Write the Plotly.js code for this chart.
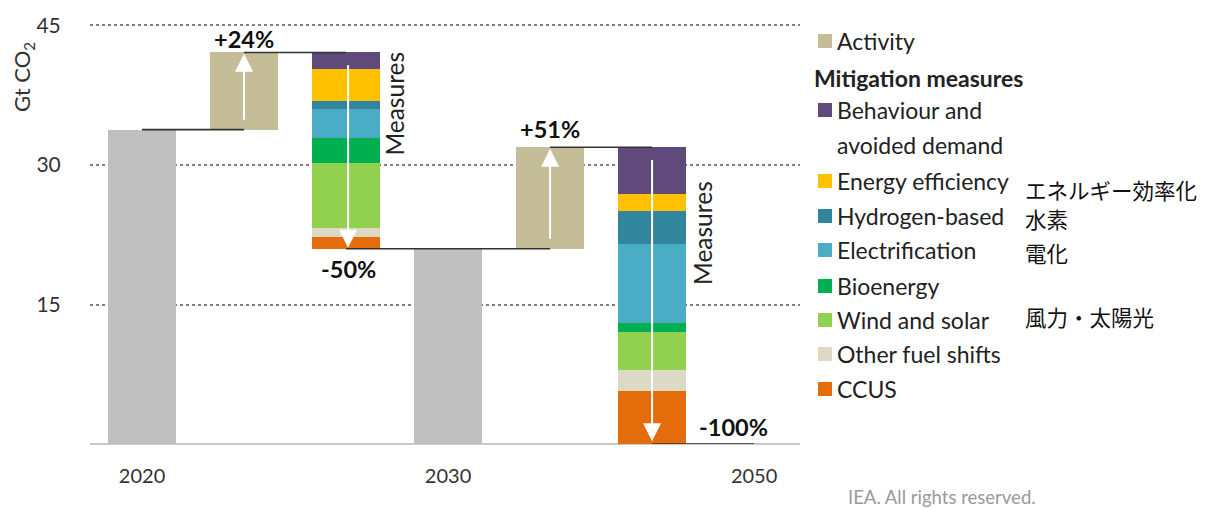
<!DOCTYPE html>
<html><head><meta charset="utf-8">
<script src="https://cdn.plot.ly/plotly-3.0.1.min.js"></script>
<style>body{margin:0;background:#fff}#chart{width:1207px;height:508px}</style>
</head><body><div id="chart"></div>
<script>
// ---- data ----
const tickLabels = ['2020', '2030', '2050'];
const totals = [33.8, 21.0];            // 2020 and 2030 emissions (Gt CO2)
const activity = [8.3, 10.9];           // activity-driven increase after 2020 and after 2030
const measureNames = ['CCUS', 'Other fuel shifts', 'Wind and solar', 'Bioenergy',
  'Electrification', 'Hydrogen-based', 'Energy efficiency', 'Behaviour and avoided demand'];
const ccus = [1.3, 5.75];
const otherFuelShifts = [0.9, 2.25];
const windSolar = [7.0, 4.0];
const bioenergy = [2.7, 1.0];
const electrification = [3.1, 8.5];
const hydrogen = [0.9, 3.5];
const efficiency = [3.4, 1.9];
const behaviour = [1.8, 5.0];
const pctLabels = ['+24%', '-50%', '+51%', '-100%'];
const jpEfficiency = 'エネルギー効率化';
const jpHydrogen = '水素';
const jpElectrification = '電化';
const jpWindSolar = '風力・太陽光';

// ---- styles ----
const measureColors = ['#e46c0a', '#ddd9c4', '#92d050', '#00b050', '#4bacc6', '#31859c', '#ffc000', '#604a7b'];
const greyC = '#bfbfbf', actC = '#c4bd97';
const FONT = 'Lato, "Open Sans", sans-serif';
const measures = [ccus, otherFuelShifts, windSolar, bioenergy, electrification, hydrogen, efficiency, behaviour];

// slots: 0=2020, 1=activity, 2=measures, 3=2030, 4=activity, 5=measures, 6=2050
const W = 0.667;
const traces = [];
traces.push({type: 'bar', x: [0, 3], y: totals, marker: {color: greyC}, width: W, showlegend: false});
const actTop = totals.map((t, i) => t + activity[i]);
traces.push({type: 'bar', x: [1, 4], y: activity, base: totals, marker: {color: actC}, width: W, showlegend: false});
const measureTotal = [0, 1].map(i => measures.reduce((s, m) => s + m[i], 0));
const cum = [0, 1].map(i => actTop[i] - measureTotal[i]);
const endVals = cum.slice();
measures.forEach((m, k) => {
  traces.push({type: 'bar', x: [2, 5], y: m, base: cum.slice(), name: measureNames[k],
    marker: {color: measureColors[k]}, width: W, showlegend: false});
  cum[0] += m[0]; cum[1] += m[1];
});

const lineStyle = {color: '#333', width: 1.6};
const shapes = [
  {type: 'line', xref: 'x', yref: 'y', x0: 0, x1: 1, y0: totals[0], y1: totals[0], line: lineStyle},
  {type: 'line', xref: 'x', yref: 'y', x0: 1, x1: 2, y0: actTop[0], y1: actTop[0], line: lineStyle},
  {type: 'line', xref: 'x', yref: 'y', x0: 2, x1: 4, y0: endVals[0], y1: endVals[0], line: lineStyle},
  {type: 'line', xref: 'x', yref: 'y', x0: 4, x1: 5, y0: actTop[1], y1: actTop[1], line: lineStyle},
  {type: 'line', xref: 'x', yref: 'y', x0: 5, x1: 6, y0: endVals[1], y1: endVals[1], line: lineStyle},
];

const arrow = (x, from, to) => ({x: x, y: to, ax: x, ay: from, xref: 'x', yref: 'y', axref: 'x', ayref: 'y',
  text: ' ', showarrow: true, arrowhead: 2, arrowsize: 1.8, arrowwidth: 2, arrowcolor: '#ffffff', standoff: 0});
const annotations = [
  arrow(1, totals[0], actTop[0] - 0.15),
  arrow(2.02, actTop[0] - 0.3, endVals[0] + 0.1),
  arrow(4, totals[1], actTop[1] - 0.15),
  arrow(5, actTop[1] - 0.3, endVals[1] + 0.3),
];
const pctFont = {family: FONT, size: 23.5, color: '#111'};
annotations.push({x: 1, y: 43.5, xref: 'x', yref: 'y', text: '<b>' + pctLabels[0] + '</b>', showarrow: false, font: pctFont});
annotations.push({x: 2.02, y: 18.8, xref: 'x', yref: 'y', text: '<b>' + pctLabels[1] + '</b>', showarrow: false, font: pctFont});
annotations.push({x: 4, y: 33.9, xref: 'x', yref: 'y', text: '<b>' + pctLabels[2] + '</b>', showarrow: false, font: pctFont});
annotations.push({x: 5.8, y: 1.8, xref: 'x', yref: 'y', text: '<b>' + pctLabels[3] + '</b>', showarrow: false, font: pctFont});
const measFont = {family: FONT, size: 24.5, color: '#222'};
annotations.push({x: 2.48, y: 36.6, xref: 'x', yref: 'y', text: 'Measures', textangle: -90, showarrow: false, font: measFont});
annotations.push({x: 5.5, y: 22.7, xref: 'x', yref: 'y', text: 'Measures', textangle: -90, showarrow: false, font: measFont});

// ---- pixel helpers for axis title and custom legend ----
const L = 90, PW = 710, B = 444, PH = 432;
const px = v => (v - L) / PW, py = v => (B - v) / PH;
annotations.push({x: px(23), y: py(77), xref: 'paper', yref: 'paper', xanchor: 'center', yanchor: 'middle',
  text: 'Gt CO<sub>2</sub>', textangle: -90, showarrow: false,
  font: {family: FONT, size: 22, color: '#333'}});

const legFont = {family: FONT, size: 23, color: '#222'};
function legText(t, xPix, yPix, font) {
  annotations.push({x: px(xPix), y: py(yPix), xref: 'paper', yref: 'paper', xanchor: 'left', yanchor: 'middle',
    text: t, showarrow: false, font: font || legFont});
}
function legBox(color, yPix) {
  shapes.push({type: 'rect', xref: 'paper', yref: 'paper', x0: px(818), x1: px(832), y0: py(yPix + 7), y1: py(yPix - 7),
    fillcolor: color, line: {width: 0}});
}
legBox(actC, 41); legText('Activity', 835, 41);
legText('<b>Mitigation measures</b>', 812, 78);
const rows = [[7, 110], [6, 181], [5, 216], [4, 250], [3, 286], [2, 320], [1, 354], [0, 389]];
rows.forEach(([k, y]) => {
  legBox(measureColors[k], y);
  if (k === 7) { legText('Behaviour and', 835, y); legText('avoided demand', 835, 145); }
  else legText(measureNames[k], 835, y);
});
const jpFont = {family: '"Noto Sans CJK JP", sans-serif', size: 21.5, color: '#111'};
legText(jpEfficiency, 1023, 189, jpFont);
legText(jpHydrogen, 1023, 219, jpFont);
legText(jpElectrification, 1023, 252, jpFont);
legText(jpWindSolar, 1023, 316, jpFont);
legText('IEA. All rights reserved.', 846, 497, {family: FONT, size: 18.5, color: '#9a9a9a'});

const layout = {
  width: 1207, height: 508,
  margin: {l: L, r: 1207 - L - PW, t: B - PH, b: 508 - B, pad: 0},
  paper_bgcolor: '#fff', plot_bgcolor: '#fff',
  barmode: 'overlay', bargap: 0,
  showlegend: false,
  xaxis: {range: [-0.51, 6.45], tickvals: [0, 3, 6], ticktext: tickLabels, showgrid: false, zeroline: false,
    showline: false, ticks: 'outside', ticklen: 14, tickcolor: 'rgba(0,0,0,0)',
    tickfont: {family: FONT, size: 20, color: '#333'}, fixedrange: true},
  yaxis: {range: [0, 46.45], tickvals: [15, 30, 45], showgrid: true, gridcolor: '#808080', gridwidth: 2, griddash: 'dot',
    zeroline: true, zerolinecolor: '#c8c8c8', zerolinewidth: 1.5,
    ticks: 'outside', ticklen: 24, tickcolor: 'rgba(0,0,0,0)',
    tickfont: {family: FONT, size: 21, color: '#333'}, fixedrange: true},
  shapes: shapes,
  annotations: annotations,
};
Plotly.newPlot('chart', traces, layout, {displayModeBar: false, staticPlot: true});
</script></body></html>
